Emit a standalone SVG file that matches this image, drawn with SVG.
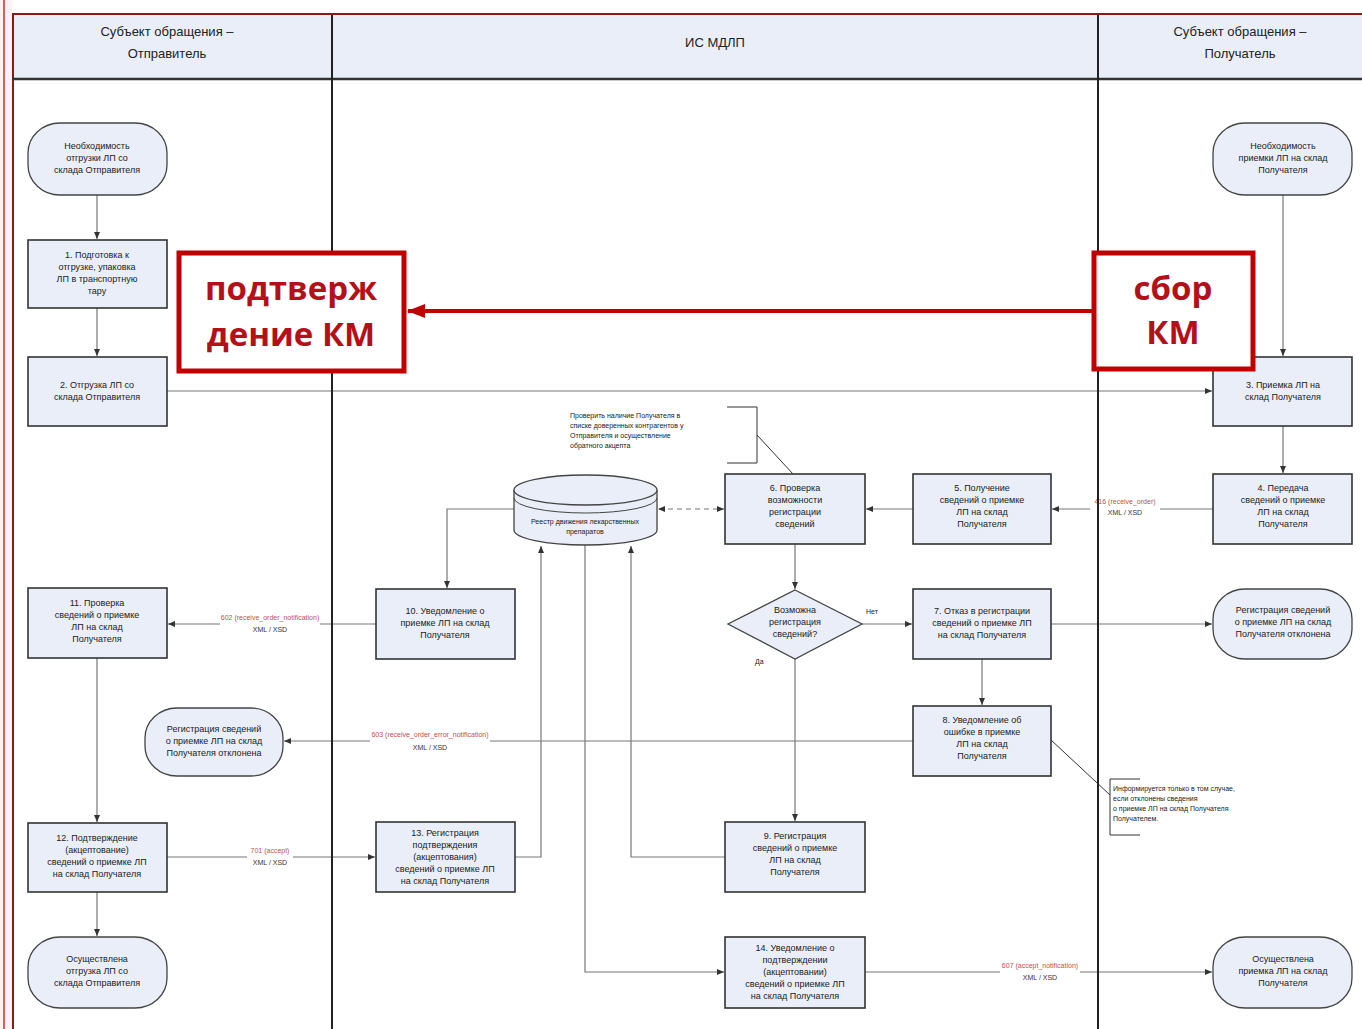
<svg xmlns="http://www.w3.org/2000/svg" width="1362" height="1029" viewBox="0 0 1362 1029">
<defs>
<style>
.lane{stroke:#222;stroke-width:2;fill:none}
.hdr{font-family:"Liberation Sans",Arial,sans-serif;font-size:13px;fill:#222;text-anchor:middle}
.box{fill:#e9eef8;stroke:#333;stroke-width:1.6}
.term{fill:#e9eef8;stroke:#444;stroke-width:1.3}
.t{font-family:"Liberation Sans",Arial,sans-serif;font-size:9px;fill:#222;text-anchor:middle}
.sm{font-family:"Liberation Sans",Arial,sans-serif;font-size:7px;fill:#222}
.lr{font-family:"Liberation Sans",Arial,sans-serif;font-size:7px;fill:#c0504d;text-anchor:middle}
.lb{font-family:"Liberation Sans",Arial,sans-serif;font-size:7px;fill:#333;text-anchor:middle}
.c{stroke:#777;stroke-width:1.2;fill:none}
.hl{fill:#fff;stroke:#c00000;stroke-width:5}
.ht{font-family:"Open Sans","Liberation Sans",sans-serif;font-weight:bold;font-size:33px;fill:#b3101a;text-anchor:middle}
.lbg{fill:#fff}
</style>
<marker id="a" markerWidth="8" markerHeight="8" refX="7" refY="4" orient="auto" markerUnits="userSpaceOnUse"><path d="M0,1 L7,4 L0,7 z" fill="#333"/></marker>
<marker id="as" markerWidth="8" markerHeight="8" refX="1" refY="4" orient="auto" markerUnits="userSpaceOnUse"><path d="M7,1 L0,4 L7,7 z" fill="#333"/></marker>
<marker id="ra" markerWidth="20" markerHeight="16" refX="17" refY="8" orient="auto" markerUnits="userSpaceOnUse"><path d="M0,1 L18,8 L0,15 z" fill="#c00000"/></marker>
</defs>
<rect width="1362" height="1029" fill="#fff"/>
<rect x="0" y="0" width="12" height="1029" fill="#fdf1f1"/>
<line x1="4" y1="0" x2="4" y2="1029" stroke="#b33" stroke-width="1.5"/>
<rect x="12" y="15" width="1350" height="64" fill="#e9eef8"/>
<line x1="12" y1="14" x2="1362" y2="14" stroke="#8b1a1a" stroke-width="2"/>
<line x1="13" y1="14" x2="13" y2="1029" stroke="#8b1a1a" stroke-width="2"/>
<line x1="12" y1="79" x2="1362" y2="79" stroke="#333" stroke-width="2.5"/>
<text class="hdr" x="167" y="36">Субъект обращения –</text>
<text class="hdr" x="167" y="58">Отправитель</text>
<text class="hdr" x="715" y="47">ИС МДЛП</text>
<text class="hdr" x="1240" y="36">Субъект обращения –</text>
<text class="hdr" x="1240" y="58">Получатель</text>

<g id="connectors">
<line class="c" x1="97" y1="195" x2="97" y2="239" marker-end="url(#a)"/>
<line class="c" x1="97" y1="308" x2="97" y2="356" marker-end="url(#a)"/>
<line class="c" x1="167" y1="391" x2="1212" y2="391" marker-end="url(#a)"/>
<line class="c" x1="1283" y1="195" x2="1283" y2="356" marker-end="url(#a)"/>
<line class="c" x1="1283" y1="426" x2="1283" y2="473" marker-end="url(#a)"/>
<line class="c" x1="1213" y1="509" x2="1052" y2="509" marker-end="url(#a)"/>
<line class="c" x1="913" y1="509" x2="866" y2="509" marker-end="url(#a)"/>
<line class="c" x1="659" y1="509" x2="724" y2="509" stroke-dasharray="5,4" marker-start="url(#as)" marker-end="url(#a)"/>
<line class="c" x1="795" y1="544" x2="795" y2="589" marker-end="url(#a)"/>
<line class="c" x1="862" y1="624" x2="912" y2="624" marker-end="url(#a)"/>
<line class="c" x1="1051" y1="624" x2="1212" y2="624" marker-end="url(#a)"/>
<line class="c" x1="982" y1="659" x2="982" y2="705" marker-end="url(#a)"/>
<line class="c" x1="913" y1="741" x2="284" y2="741" marker-end="url(#a)"/>
<line class="c" x1="795" y1="659" x2="795" y2="821" marker-end="url(#a)"/>
<polyline class="c" points="725,857 631,857 631,546" marker-end="url(#a)"/>
<polyline class="c" points="515,857 541,857 541,546" marker-end="url(#a)"/>
<polyline class="c" points="585,545 585,972 724,972" marker-end="url(#a)"/>
<polyline class="c" points="514,509 447,509 447,588" marker-end="url(#a)"/>
<line class="c" x1="376" y1="624" x2="168" y2="624" marker-end="url(#a)"/>
<line class="c" x1="97" y1="658" x2="97" y2="822" marker-end="url(#a)"/>
<line class="c" x1="167" y1="857" x2="375" y2="857" marker-end="url(#a)"/>
<line class="c" x1="97" y1="892" x2="97" y2="936" marker-end="url(#a)"/>
<line class="c" x1="865" y1="972" x2="1212" y2="972" marker-end="url(#a)"/>
<polyline points="727,407 757,407 757,463 727,463" fill="none" stroke="#333" stroke-width="1"/>
<line x1="757" y1="435" x2="793" y2="474" stroke="#333" stroke-width="1"/>
<polyline points="1140,779 1110,779 1110,835 1140,835" fill="none" stroke="#333" stroke-width="1"/>
<line x1="1051" y1="740" x2="1110" y2="795" stroke="#333" stroke-width="1"/>
<text class="sm" x="866" y="614">Нет</text>
<text class="sm" x="755" y="664">Да</text>
<rect class="lbg" x="1090" y="497" width="70" height="20"/>
<text class="lr" x="1125" y="504">416 (receive_order)</text>
<text class="lb" x="1125" y="515">XML / XSD</text>
<rect class="lbg" x="220" y="612" width="100" height="22"/>
<text class="lr" x="270" y="620">602 (receive_order_notification)</text>
<text class="lb" x="270" y="632">XML / XSD</text>
<rect class="lbg" x="370" y="729" width="120" height="22"/>
<text class="lr" x="430" y="737">603 (receive_order_error_notification)</text>
<text class="lb" x="430" y="750">XML / XSD</text>
<rect class="lbg" x="247" y="845" width="46" height="22"/>
<text class="lr" x="270" y="853">701 (accept)</text>
<text class="lb" x="270" y="865">XML / XSD</text>
<rect class="lbg" x="1000" y="960" width="80" height="22"/>
<text class="lr" x="1040" y="968">607 (accept_notification)</text>
<text class="lb" x="1040" y="980">XML / XSD</text>
</g>
<line class="lane" x1="332" y1="15" x2="332" y2="1029"/>
<line class="lane" x1="1098" y1="15" x2="1098" y2="1029"/>

<g id="n_start_s"><rect class="term" x="28" y="123" width="139" height="72" rx="32" ry="30"/>
<text class="t" x="97" y="149">Необходимость</text><text class="t" x="97" y="161">отгрузки ЛП со</text><text class="t" x="97" y="173">склада Отправителя</text></g>
<g id="n1"><rect class="box" x="28" y="240" width="139" height="68"/>
<text class="t" x="97" y="258">1. Подготовка к</text><text class="t" x="97" y="270">отгрузке, упаковка</text><text class="t" x="97" y="282">ЛП в транспортную</text><text class="t" x="97" y="294">тару</text></g>
<g id="n2"><rect class="box" x="28" y="357" width="139" height="69"/>
<text class="t" x="97" y="388">2. Отгрузка ЛП со</text><text class="t" x="97" y="400">склада Отправителя</text></g>
<g id="n11"><rect class="box" x="28" y="588" width="139" height="70"/>
<text class="t" x="97" y="606">11. Проверка</text><text class="t" x="97" y="618">сведений о приемке</text><text class="t" x="97" y="630">ЛП на склад</text><text class="t" x="97" y="642">Получателя</text></g>
<g id="n_rej_s"><rect class="term" x="145" y="708" width="138" height="68" rx="32" ry="30"/>
<text class="t" x="214" y="732">Регистрация сведений</text><text class="t" x="214" y="744">о приемке ЛП на склад</text><text class="t" x="214" y="756">Получателя отклонена</text></g>
<g id="n12"><rect class="box" x="28" y="823" width="139" height="69"/>
<text class="t" x="97" y="841">12. Подтверждение</text><text class="t" x="97" y="853">(акцептование)</text><text class="t" x="97" y="865">сведений о приемке ЛП</text><text class="t" x="97" y="877">на склад Получателя</text></g>
<g id="n_end_s"><rect class="term" x="28" y="937" width="139" height="71" rx="32" ry="30"/>
<text class="t" x="97" y="962">Осуществлена</text><text class="t" x="97" y="974">отгрузка ЛП со</text><text class="t" x="97" y="986">склада Отправителя</text></g>

<g id="db"><path d="M514,490 L514,530 A71.5,15 0 0 0 657,530 L657,490" class="term"/>
<ellipse class="term" cx="585.5" cy="490" rx="71.5" ry="15"/>
<path d="M514,498 A71.5,15 0 0 0 657,498" fill="none" stroke="#444" stroke-width="1"/>
<text class="sm" x="585" y="524" text-anchor="middle">Реестр движения лекарственных</text><text class="sm" x="585" y="534" text-anchor="middle">препаратов</text></g>
<g id="note1"><text class="sm" x="570" y="418">Проверить наличие Получателя в</text><text class="sm" x="570" y="428">списке доверенных контрагентов у</text><text class="sm" x="570" y="438">Отправителя и осуществление</text><text class="sm" x="570" y="448">обратного акцепта</text></g>
<g id="n6"><rect class="box" x="725" y="474" width="140" height="70"/>
<text class="t" x="795" y="491">6. Проверка</text><text class="t" x="795" y="503">возможности</text><text class="t" x="795" y="515">регистрации</text><text class="t" x="795" y="527">сведений</text></g>
<g id="n5"><rect class="box" x="913" y="474" width="138" height="70"/>
<text class="t" x="982" y="491">5. Получение</text><text class="t" x="982" y="503">сведений о приемке</text><text class="t" x="982" y="515">ЛП на склад</text><text class="t" x="982" y="527">Получателя</text></g>
<g id="dec"><polygon class="term" points="795,590 862,624 795,659 728,624"/>
<text class="t" x="795" y="613">Возможна</text><text class="t" x="795" y="625">регистрация</text><text class="t" x="795" y="637">сведений?</text></g>
<g id="n7"><rect class="box" x="913" y="589" width="138" height="70"/>
<text class="t" x="982" y="614">7. Отказ в регистрации</text><text class="t" x="982" y="626">сведений о приемке ЛП</text><text class="t" x="982" y="638">на склад Получателя</text></g>
<g id="n8"><rect class="box" x="913" y="706" width="138" height="70"/>
<text class="t" x="982" y="723">8. Уведомление об</text><text class="t" x="982" y="735">ошибке в приемке</text><text class="t" x="982" y="747">ЛП на склад</text><text class="t" x="982" y="759">Получателя</text></g>
<g id="note2"><text class="sm" x="1113" y="791">Информируется только в том случае,</text><text class="sm" x="1113" y="801">если отклонены сведения</text><text class="sm" x="1113" y="811">о приемке ЛП на склад Получателя</text><text class="sm" x="1113" y="821">Получателем.</text></g>
<g id="n9"><rect class="box" x="725" y="822" width="140" height="70"/>
<text class="t" x="795" y="839">9. Регистрация</text><text class="t" x="795" y="851">сведений о приемке</text><text class="t" x="795" y="863">ЛП на склад</text><text class="t" x="795" y="875">Получателя</text></g>
<g id="n10"><rect class="box" x="376" y="589" width="139" height="70"/>
<text class="t" x="445" y="614">10. Уведомление о</text><text class="t" x="445" y="626">приемке ЛП на склад</text><text class="t" x="445" y="638">Получателя</text></g>
<g id="n13"><rect class="box" x="376" y="822" width="139" height="70"/>
<text class="t" x="445" y="836">13. Регистрация</text><text class="t" x="445" y="848">подтверждения</text><text class="t" x="445" y="860">(акцептования)</text><text class="t" x="445" y="872">сведений о приемке ЛП</text><text class="t" x="445" y="884">на склад Получателя</text></g>
<g id="n14"><rect class="box" x="725" y="937" width="140" height="71"/>
<text class="t" x="795" y="951">14. Уведомление о</text><text class="t" x="795" y="963">подтверждении</text><text class="t" x="795" y="975">(акцептовании)</text><text class="t" x="795" y="987">сведений о приемке ЛП</text><text class="t" x="795" y="999">на склад Получателя</text></g>

<g id="n_start_r"><rect class="term" x="1213" y="123" width="139" height="72" rx="32" ry="30"/>
<text class="t" x="1283" y="149">Необходимость</text><text class="t" x="1283" y="161">приемки ЛП на склад</text><text class="t" x="1283" y="173">Получателя</text></g>
<g id="n3"><rect class="box" x="1213" y="357" width="139" height="69"/>
<text class="t" x="1283" y="388">3. Приемка ЛП на</text><text class="t" x="1283" y="400">склад Получателя</text></g>
<g id="n4"><rect class="box" x="1213" y="474" width="139" height="70"/>
<text class="t" x="1283" y="491">4. Передача</text><text class="t" x="1283" y="503">сведений о приемке</text><text class="t" x="1283" y="515">ЛП на склад</text><text class="t" x="1283" y="527">Получателя</text></g>
<g id="n_rej_r"><rect class="term" x="1213" y="589" width="139" height="70" rx="32" ry="30"/>
<text class="t" x="1283" y="613">Регистрация сведений</text><text class="t" x="1283" y="625">о приемке ЛП на склад</text><text class="t" x="1283" y="637">Получателя отклонена</text></g>
<g id="n_end_r"><rect class="term" x="1213" y="937" width="139" height="71" rx="32" ry="30"/>
<text class="t" x="1283" y="962">Осуществлена</text><text class="t" x="1283" y="974">приемка ЛП на склад</text><text class="t" x="1283" y="986">Получателя</text></g>

<g id="hl_confirm"><rect class="hl" x="179" y="253" width="225" height="118"/>
<text class="ht" x="291" y="300">подтверж</text><text class="ht" x="291" y="346">дение КМ</text></g>
<g id="hl_collect"><rect class="hl" x="1094" y="253" width="159" height="116"/>
<text class="ht" x="1173" y="300">сбор</text><text class="ht" x="1173" y="344">КМ</text></g>
<g id="hl_arrow"><line x1="1092" y1="311" x2="408" y2="311" stroke="#c00000" stroke-width="4" marker-end="url(#ra)"/></g>
</svg>
